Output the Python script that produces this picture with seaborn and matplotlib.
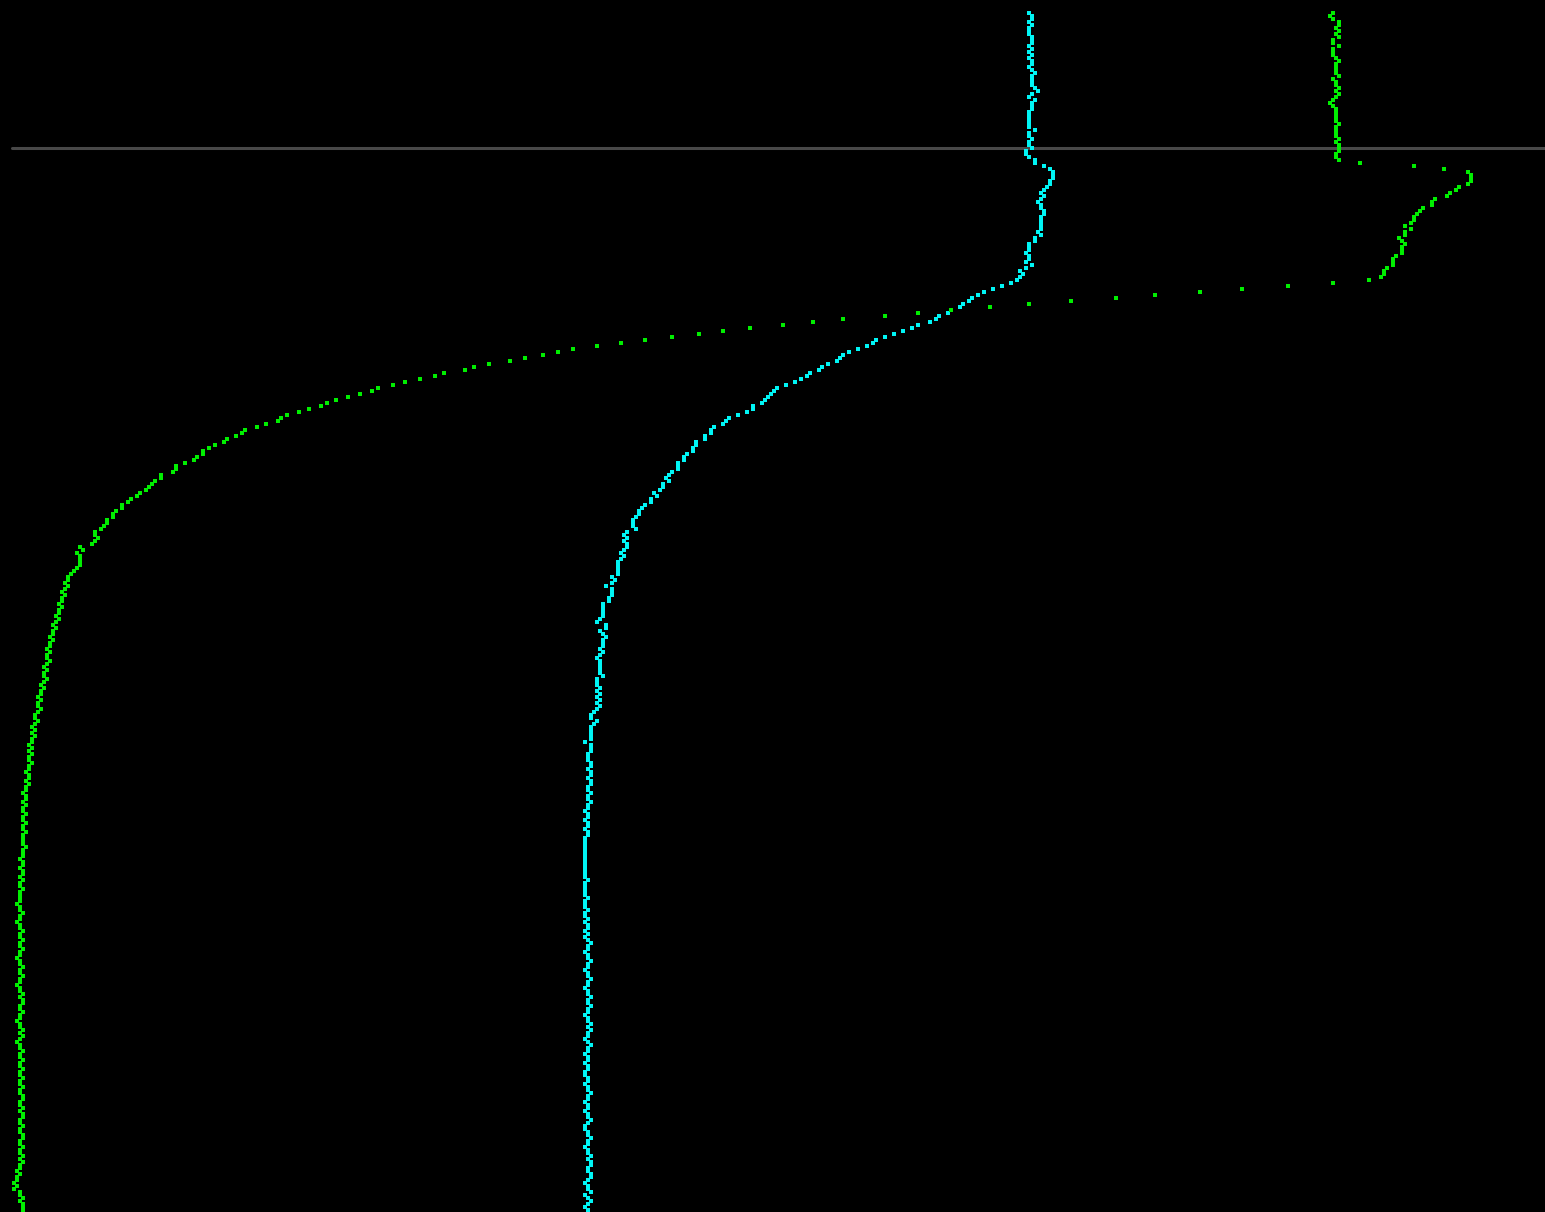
import numpy as np
import matplotlib
matplotlib.use("Agg")
import matplotlib.pyplot as plt
import seaborn as sns

# profile readings, one per depth level (top to bottom), horizontal position in plot units
cyan_x = [
    1027, 1030, 1030, 1027, 1030, 1027, 1027, 1027, 1030, 1030,
    1030, 1027, 1030, 1027, 1030, 1027, 1030, 1030, 1027, 1030,
    1033, 1030, 1030, 1030, 1030, 1033, 1036, 1030, 1027, 1033,
    1030, 1030, 1030, 1027, 1027, 1027, 1027, 1027, 1027, 1033,
    1027, 1027, 1030, 1027, 1027, 1030, 1024, 1024, 1027, 1033,
    1033, 1042, 1048, 1051, 1051, 1051, 1048, 1048, 1045, 1042,
    1039, 1042, 1039, 1036, 1039, 1039, 1042, 1042, 1039, 1039,
    1039, 1039, 1039, 1036, 1039, 1033, 1033, 1027, 1027, 1027,
    1024, 1027, 1027, 1024, 1030, 1024, 1018, 1021, 1018, 1015,
    1009, 1000, 991, 982, 976, 970, 967, 961, 958, 949,
    946, 937, 934, 928, 916, 910, 901, 892, 883, 874,
    871, 865, 856, 847, 841, 838, 835, 826, 820, 817,
    808, 805, 799, 793, 784, 775, 772, 769, 766, 763,
    760, 751, 751, 745, 736, 727, 724, 721, 712, 709,
    709, 703, 703, 694, 694, 691, 691, 685, 682, 682,
    676, 676, 676, 670, 667, 664, 667, 661, 661, 658,
    652, 655, 649, 649, 643, 640, 637, 637, 634, 631,
    631, 631, 634, 625, 622, 625, 622, 625, 625, 622,
    619, 622,
    619, 616, 616, 616, 616, 616, 610, 613, 610, 604,
    610, 610, 610, 607, 607, 601, 601, 601, 601, 601,
    598, 595, 604, 604, 598, 601, 604, 601, 601, 601,
    598, 601, 598, 595, 598, 598, 598, 598, 598, 601,
    595, 595, 595, 598, 595, 598, 595, 598, 595, 598,
    595, 592, 589, 589, 595, 592, 589, 589, 589, 589,
    589, 583, 589, 589, 589, 586, 586, 586, 589, 589,
    586, 589, 589, 586, 589, 589, 586, 586, 589, 586,
    586, 589, 586, 586, 583, 586, 586, 583, 586, 586,
    583, 586, 586, 583, 583, 583, 583, 583, 583, 583,
    583, 583, 583, 583, 583, 583, 583, 586, 583, 583,
    583, 583, 583, 586, 583, 583, 583, 586, 583, 583,
    586, 583, 586, 586, 583, 586, 583, 586, 589, 586,
    586, 583, 586, 586, 589, 586, 586, 583, 586, 586,
    589, 586, 586, 583, 586, 586, 589, 586, 586, 589,
    586, 586, 583, 586, 586, 589, 586, 589, 586, 586,
    583, 586, 589, 586, 586, 583, 586, 586, 583, 586,
    586, 583, 583, 586, 586, 583, 586, 586, 589, 586,
    586, 583, 586, 586, 583, 586, 586, 589, 586, 583,
    583, 586, 586, 589, 586, 586, 583, 586, 586, 589,
    586, 589, 589, 586, 586, 589, 589, 586, 583, 586,
    586, 589, 583, 586, 589, 586, 583, 586,
]

green_x = [
    1331, 1328, 1331, 1337, 1337, 1334, 1337, 1334, 1337, 1331,
    1331, 1337, 1331, 1331, 1331, 1334, 1337, 1334, 1334, 1334,
    1334, 1337, 1331, 1334, 1334, 1337, 1334, 1337, 1334, 1331,
    1328, 1331, 1334, 1334, 1334, 1334, 1334, 1337, 1334, 1334,
    1334, 1334, 1337, 1334, 1337, 1337, 1337, 1334, 1334, 1337,
    1358, 1412, 1442, 1466, 1469, 1469, 1469, 1466, 1457, 1454,
    1448, 1445, 1433, 1430, 1430, 1421, 1418, 1415, 1412, 1412,
    1409, 1403, 1409, 1403, 1403, 1397, 1400, 1403, 1400, 1400,
    1400, 1394, 1391, 1391, 1391, 1385, 1382, 1382, 1379, 1367,
    1331, 1286, 1240, 1198, 1153, 1114, 1069, 1027, 988, 949,
    916, 883, 841, 811, 781, 748, 721, 697, 670, 643,
    619, 595, 571, 556, 541, 523, 508, 487, 472, 463,
    442, 433, 418, 403, 391, 376, 370, 358, 346, 334,
    325, 319, 307, 297, 285, 279, 276, 264, 255, 243,
    240, 234, 225, 222, 213, 207, 201, 201, 195, 192,
    183, 174, 174, 171, 159, 159, 153, 150, 147, 144,
    138, 135, 129, 126, 120, 120, 114, 111, 111, 105,
    105, 102, 99, 93, 93, 96, 93, 90, 78, 81,
    75, 78, 78, 78, 78, 75, 72, 69, 66, 66,
    63, 66, 63, 60, 63, 60, 60, 57, 60, 57,
    57, 54, 57, 54, 51, 54, 51, 51, 48, 51,
    48, 48, 45, 48, 45, 45, 48, 45, 42, 45,
    42, 42, 45, 42, 39, 42, 39, 39, 36, 39,
    36, 36, 39, 36, 33, 33, 36, 33, 30, 33,
    30, 33, 30, 30, 27, 30, 27, 30, 27, 27,
    30, 27, 27, 24, 27, 27, 24, 27, 24, 24,
    21, 24, 24, 21, 24, 21, 21, 24, 21, 21,
    24, 21, 21, 24, 21, 21, 21, 21, 24, 21,
    21, 21, 18, 21, 21, 18, 21, 21, 18, 21,
    18, 18, 21, 18, 18, 18, 18, 15, 18, 18,
    21, 18, 18, 15, 18, 18, 21, 18, 18, 21,
    18, 18, 21, 18, 18, 15, 18, 18, 21, 18,
    18, 21, 18, 18, 15, 18, 18, 21, 18, 21,
    21, 18, 18, 21, 18, 18, 15, 18, 18, 21,
    18, 21, 18, 15, 18, 18, 21, 18, 18, 21,
    18, 18, 21, 18, 18, 21, 18, 18, 21, 18,
    18, 21, 21, 18, 18, 21, 18, 21, 21, 18,
    18, 21, 18, 18, 21, 21, 18, 18, 21, 18,
    18, 21, 18, 21, 18, 18, 15, 18, 15, 15,
    12, 15, 12, 18, 18, 21, 18, 21, 21, 21,
]

mixed_layer_level = 45

sns.set_style("dark", {"axes.facecolor": "black", "figure.facecolor": "black"})

fig = plt.figure(figsize=(15.45, 12.12), dpi=100)
ax = fig.add_axes([0, 0, 1, 1])
ax.set_facecolor("black")

ax.axhline(mixed_layer_level, xmin=12 / 1545, xmax=1, color="#484848", lw=2.2, zorder=1)

levels = np.arange(len(cyan_x))
sns.scatterplot(x=cyan_x, y=levels, marker="s", s=4.7, color="#00f5f5",
                linewidth=0, ax=ax, zorder=3, legend=False)
levels_g = np.arange(len(green_x))
sns.scatterplot(x=green_x, y=levels_g, marker="s", s=4.7, color="#00ee00",
                linewidth=0, ax=ax, zorder=3, legend=False)

ax.set_xlim(-1.5, 1543.5)
ax.set_ylim((1212 - 12.5) / 3, -12.5 / 3)
ax.axis("off")

fig.savefig("out.png", dpi=100, facecolor="black")
